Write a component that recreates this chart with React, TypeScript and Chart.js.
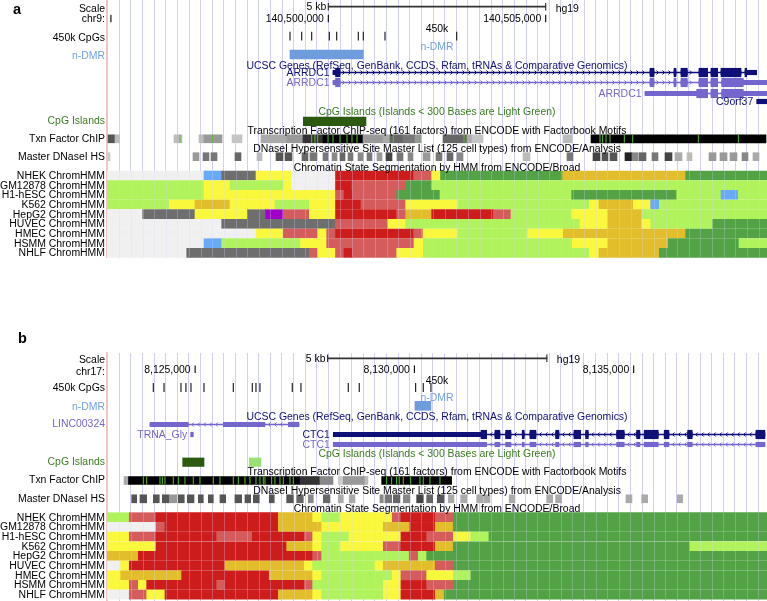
import React, { useEffect, useRef } from 'react';
import { Chart, registerables } from 'chart.js';

Chart.register(...registerables);

type Seg = [number, number];
type Scored = [number, number, number];
interface Gene {
  name: string; label: boolean; strand: 1 | -1; kind: 'ref' | 'alt';
  txStart: number; txEnd: number; cdsStart: number; cdsEnd: number; exons: Seg[];
}

// ---------------- shared ----------------
const CELL_LINES = ['NHEK', 'GM12878', 'H1-hESC', 'K562', 'HepG2', 'HUVEC', 'HMEC', 'HSMM', 'NHLF'];
const TRACK_TITLES = [
  '450k',
  'n-DMR',
  'UCSC Genes (RefSeq, GenBank, CCDS, Rfam, tRNAs & Comparative Genomics)',
  'CpG Islands (Islands < 300 Bases are Light Green)',
  'Transcription Factor ChIP-seq (161 factors) from ENCODE with Factorbook Motifs',
  'DNaseI Hypersensitive Site Master List (125 cell types) from ENCODE/Analysis',
  'Chromatin State Segmentation by HMM from ENCODE/Broad',
];

// ---------------- panel a : chr9 ----------------
const A_RANGE: Seg = [140494910, 140510090];
const A_POS_TICKS = [140495000, 140500000, 140505000];
const A_POS_LABELS = ['', '140,500,000', '140,505,000'];
const A_SCALE_BAR: Seg = [140500000, 140505000];
const A_CPG450K = [140499119, 140499388, 140499618, 140500023, 140500193, 140500690, 140500805, 140501304, 140502953];
const A_NDMR: Seg[] = [[140499119, 140500805]];
const A_GENES: Gene[] = [
  { name: 'ARRDC1', label: true, strand: 1, kind: 'ref', txStart: 140500108, txEnd: 140509853, cdsStart: 140500166, cdsEnd: 140509623,
    exons: [[140500108, 140500269], [140507399, 140507491], [140507951, 140507997], [140508112, 140508257], [140508526, 140508726], [140508802, 140508956], [140509032, 140509492], [140509584, 140509853]] },
  { name: 'ARRDC1', label: true, strand: 1, kind: 'alt', txStart: 140500108, txEnd: 140510300, cdsStart: 140500166, cdsEnd: 140509545,
    exons: [[140500108, 140500269], [140507399, 140507491], [140507951, 140507997], [140508112, 140508257], [140508526, 140508726], [140508802, 140508956], [140509048, 140510300]] },
  { name: 'ARRDC1', label: true, strand: 1, kind: 'alt', txStart: 140507284, txEnd: 140510300, cdsStart: 140508473, cdsEnd: 140509545,
    exons: [[140507284, 140508726], [140508802, 140508956], [140509048, 140510300]] },
  { name: 'C9orf37', label: true, strand: -1, kind: 'ref', txStart: 140509853, txEnd: 140510300, cdsStart: 140510300, cdsEnd: 140510300,
    exons: [[140509853, 140510300]] },
];
const A_CPG_ISLANDS: Seg[] = [[140499425, 140500867]];
const A_CPG_ISLANDS_SHORT: Seg[] = [];
const A_TXN: Scored[] = [
  [140494933, 140495094, 667], [140495094, 140495198, 267], [140496451, 140496635, 267], [140497026, 140497141, 267],
  [140497141, 140497555, 400], [140497785, 140498015, 231], [140498452, 140499050, 333], [140499050, 140499418, 400],
  [140499418, 140499878, 800], [140499878, 140500798, 1000], [140500798, 140501258, 400], [140501258, 140501419, 333],
  [140501419, 140501718, 600], [140501718, 140501994, 533], [140501994, 140502132, 400], [140502638, 140503190, 600],
  [140503190, 140503305, 333], [140503305, 140503558, 231], [140505398, 140505605, 267], [140506042, 140510067, 1000],
];
const A_TXN_MOTIFS = [140496589, 140497332, 140499618, 140499694, 140499756, 140499993, 140500108, 140500269, 140500430, 140500545, 140500660,
  140501495, 140502093, 140503121, 140506249, 140506311, 140506387, 140506479, 140506808, 140507001, 140508510, 140509430];
const A_DNASE: Scored[] = [
  [140494933, 140494979, 200], [140496888, 140497026, 400], [140497118, 140497256, 533], [140497302, 140497440, 533],
  [140497854, 140497992, 600], [140498360, 140498475, 267], [140498797, 140498958, 667], [140499004, 140499165, 667],
  [140499395, 140499533, 600], [140499579, 140499740, 533], [140499878, 140499993, 533], [140500085, 140500200, 467],
  [140500269, 140500384, 600], [140500453, 140500568, 533], [140500683, 140500798, 467], [140500890, 140501005, 533],
  [140501120, 140501235, 400], [140501327, 140501465, 733], [140501580, 140501718, 533], [140501833, 140501948, 467],
  [140502178, 140502339, 400], [140502477, 140502615, 533], [140502730, 140502868, 600], [140502960, 140503098, 467],
  [140504478, 140504639, 267], [140505490, 140505628, 533], [140506088, 140506249, 733], [140506295, 140506433, 667],
  [140506479, 140506640, 667], [140506824, 140506985, 867], [140506985, 140507123, 467], [140507146, 140507307, 600],
  [140507445, 140507583, 533], [140507744, 140507905, 733], [140507974, 140508135, 333], [140508250, 140508365, 267],
  [140508756, 140508917, 400], [140509009, 140509170, 400], [140509239, 140509400, 400], [140509515, 140509653, 467],
  [140509768, 140509906, 333],
];
// ChromHMM: segment boundaries and state codes, one row per cell line (order of CELL_LINES)
const A_HMM_BREAKS: number[][] = [
  [140494910, 140497141, 140497548, 140498337, 140499158, 140500166, 140501964, 140502378, 140502581, 140505391, 140508220, 140510090],
  [140494910, 140497141, 140497739, 140498965, 140499158, 140500166, 140500545, 140501776, 140502378, 140510090],
  [140494910, 140497141, 140500166, 140500361, 140500552, 140501573, 140502569, 140505598, 140508013, 140509032, 140509430, 140510090],
  [140494910, 140496343, 140496934, 140497739, 140498774, 140499563, 140500166, 140500752, 140501780, 140502983, 140506003, 140506226, 140507015, 140507415, 140507613, 140510090],
  [140494910, 140495731, 140496934, 140498137, 140498560, 140498965, 140499563, 140500166, 140501573, 140501780, 140502378, 140503795, 140504202, 140505598, 140506426, 140507208, 140510090],
  [140494910, 140497548, 140500166, 140501373, 140501780, 140505789, 140506426, 140507208, 140507415, 140508841, 140510090],
  [140494910, 140498337, 140498965, 140499756, 140499963, 140500166, 140501964, 140502178, 140502976, 140504586, 140505405, 140508220, 140510090],
  [140494910, 140497141, 140497548, 140499361, 140499963, 140501971, 140502185, 140505612, 140506426, 140507820, 140509446, 140510090],
  [140494910, 140496743, 140499563, 140499756, 140500166, 140500361, 140500552, 140501573, 140502185, 140506003, 140506226, 140507613, 140510090],
];
const A_HMM_STATES = ['HIREHAWETST', 'LELEHAWTL', 'LEWAWTLTLIL', 'LESELEAWELESEIL', 'HRERPWEAWSAWLESL', 'HRWELESELT', 'HEWEWAWELEST', 'HILEWELESTL', 'HRWEWAWELEST'];

// ---------------- panel b : chr17 ----------------
const B_RANGE: Seg = [8122990, 8138040];
const B_POS_TICKS = [8125000, 8130000, 8135000];
const B_POS_LABELS = ['8,125,000', '8,130,000', '8,135,000'];
const B_SCALE_BAR: Seg = [8128020, 8133020];
const B_CPG450K = [8124046, 8124290, 8124677, 8124790, 8124905, 8125202, 8125870, 8126303, 8126387, 8126478, 8127215, 8127413,
  8128492, 8128742, 8130028, 8130202, 8130377];
const B_NDMR: Seg[] = [[8130012, 8130377]];
const CTC1_EXONS: Seg[] = [[8128150, 8131647], [8131836, 8131950], [8132080, 8132201], [8132459, 8132504], [8132634, 8132771],
  [8133220, 8133296], [8133638, 8133790], [8133904, 8133964], [8134611, 8134784], [8135067, 8135142], [8135240, 8135560],
  [8135696, 8135804], [8136230, 8136335], [8137787, 8137992]];
const B_GENES: Gene[] = [
  { name: 'LINC00324', label: false, strand: -1, kind: 'alt', txStart: 8123970, txEnd: 8127368, cdsStart: 8127368, cdsEnd: 8127368,
    exons: [[8123970, 8124844], [8125642, 8126592], [8127124, 8127368]] },
  { name: 'TRNA_Gly', label: true, strand: -1, kind: 'alt', txStart: 8124898, txEnd: 8124958, cdsStart: 8124958, cdsEnd: 8124958,
    exons: [[8124898, 8124958]] },
  { name: 'CTC1', label: true, strand: -1, kind: 'ref', txStart: 8128150, txEnd: 8137992, cdsStart: 8131517, cdsEnd: 8137992, exons: CTC1_EXONS },
  { name: 'CTC1', label: true, strand: -1, kind: 'alt', txStart: 8128150, txEnd: 8137992, cdsStart: 8137992, cdsEnd: 8137992, exons: CTC1_EXONS },
];
const B_CPG_ISLANDS: Seg[] = [[8124716, 8125202]];
const B_CPG_ISLANDS_SHORT: Seg[] = [[8126234, 8126501]];
const B_TXN: Scored[] = [
  [8123378, 8123480, 333], [8123480, 8127390, 1000], [8127390, 8127846, 800], [8127846, 8128143, 467],
  [8128264, 8128378, 200], [8128378, 8128872, 400], [8128872, 8128941, 267], [8129253, 8130849, 1000],
];
const B_TXN_MOTIFS = [8123818, 8123895, 8124198, 8124251, 8124312, 8124502, 8124616, 8124768, 8124958, 8125110, 8125414, 8125566,
  8125870, 8125984, 8126136, 8126250, 8126387, 8126478, 8126554, 8126592, 8126745, 8126820, 8126934, 8127010, 8127162, 8127238,
  8129367, 8129481, 8129595, 8129654, 8129746, 8129914, 8130126, 8130202, 8130354, 8130582];
const B_DNASE: Scored[] = [
  [8123553, 8123667, 667], [8123742, 8123895, 667], [8124046, 8124182, 667], [8124251, 8124410, 667], [8124426, 8124579, 400],
  [8124616, 8124752, 667], [8124821, 8124974, 667], [8125072, 8125186, 667], [8125300, 8125414, 667], [8125566, 8125696, 667],
  [8125908, 8126061, 667], [8126136, 8126266, 667], [8126326, 8126462, 667], [8126690, 8126804, 667], [8127087, 8127238, 667],
  [8127315, 8127466, 600], [8127580, 8127694, 467], [8127922, 8128074, 600], [8128264, 8128378, 333], [8128514, 8128644, 333],
  [8129214, 8129290, 467], [8129328, 8129481, 533], [8129518, 8129670, 600], [8129746, 8129898, 467], [8130051, 8130202, 733],
  [8130279, 8130416, 600], [8130521, 8130674, 667], [8130772, 8130902, 333], [8131054, 8131191, 333], [8131419, 8131570, 333],
  [8131586, 8131722, 333], [8132162, 8132292, 333], [8133015, 8133152, 333], [8133220, 8133357, 333], [8134823, 8134960, 333],
  [8135181, 8135318, 333], [8135993, 8136116, 333],
];
const B_HMM_BREAKS: number[][] = [
  [8122990, 8123498, 8124107, 8126896, 8127680, 8127885, 8128302, 8129495, 8129693, 8130475, 8130886, 8138040],
  [8122990, 8124107, 8124312, 8126896, 8127885, 8129290, 8129898, 8130475, 8130886, 8138040],
  [8122990, 8123498, 8124107, 8125491, 8126303, 8127488, 8127680, 8127885, 8128508, 8129693, 8130279, 8130886, 8131289, 8131700, 8138040],
  [8122990, 8124107, 8127087, 8127680, 8127885, 8128302, 8129290, 8129693, 8130475, 8130886, 8136282, 8138040],
  [8122990, 8123704, 8127680, 8127885, 8129882, 8130088, 8130279, 8138040],
  [8122990, 8123302, 8123498, 8125680, 8127488, 8127680, 8129100, 8129290, 8130475, 8130886, 8138040],
  [8122990, 8123302, 8124693, 8126690, 8127680, 8127885, 8129495, 8129693, 8130279, 8130886, 8131289, 8138040],
  [8122990, 8123498, 8123704, 8123895, 8125491, 8125680, 8127488, 8127680, 8129290, 8129693, 8130279, 8130886, 8138040],
  [8122990, 8123498, 8123895, 8124312, 8126896, 8127680, 8127885, 8129290, 8129693, 8130475, 8130680, 8138040],
];
const B_HMM_STATES = ['LWASELEWAWT', 'HWASESAST', 'EWAWAWELEAWELT', 'EASELEWASTL', 'SAWLWLT', 'HEASELESWT', 'ESASELEWELT', 'EWEAWAWLEAWT', 'HWEASELEAST'];

// ---------------- styles ----------------
const FONT = '"Liberation Sans", Arial, Helvetica, sans-serif';
const FS = 10.45;
const STATE_COLORS: Record<string, string> = {
  A: '#cd1c1c', W: '#d45c5c', P: '#a000c8', S: '#e3be2c', E: '#f9f83c',
  I: '#68aaf6', T: '#53a346', L: '#b1f35c', R: '#6e6e6e', H: '#f0f0f0',
};
const NAVY = '#0f0f78';
const PURPLE = '#7366cc';
const DMR_BAR = '#6e9cdc';
const DMR_TEXT = '#6fa0e6';
const CPG_DARK = '#2c5b10';
const CPG_LIGHT = '#99e173';
const CPG_TEXT = '#3b7b20';
const MOTIF_GREEN = '#5cbf2a';
const GRID_COLOR = '#d0d0fb';
const GRID_OVERLAY = 'rgba(215,215,255,0.28)';
const BORDER_PINK = '#f0c4c4';
const SCALE_COLOR = '#333333';
const gray = (score: number) => { const g = Math.round(255 * (1 - score / 1000)); return `rgb(${g},${g},${g})`; };

interface Layout {
  canvasTop: number; canvasHeight: number; padTop: number; yMin: number; yMax: number;
  letter: string; letterX: number; letterY: number;
  scaleY: number; chrY: number; cpg450Y: number; dmrY: number; geneY: number[];
  cpgY: number; txnY: number; dnaseY: number; hmmY0: number; hmmPitch: number;
  titleY: number[]; gridStart: number; gridStep: number;
  leftLabels: { text: string; y: number; color: string }[];
}

const hmmLabels = (y0: number, pitch: number) => CELL_LINES.map((c, i) => ({ text: `${c} ChromHMM`, y: y0 + i * pitch + 0.5, color: '#000' }));

const A_LAYOUT: Layout = {
  canvasTop: 0, canvasHeight: 258, padTop: 0, yMin: 0, yMax: 258,
  letter: 'a', letterX: 13, letterY: 14.3,
  scaleY: 6.7, chrY: 18.5, cpg450Y: 36.2, dmrY: 54.5, geneY: [72.5, 82.5, 93.5, 101.5],
  cpgY: 121.3, txnY: 138.8, dnaseY: 156.7, hmmY0: 175.5, hmmPitch: 9.67,
  titleY: [29, 46.7, 65.7, 112.3, 131, 149.3, 167.7],
  gridStart: 140495193, gridStep: 267.3,
  leftLabels: [
    { text: 'Scale', y: 8.7, color: '#000' }, { text: 'chr9:', y: 19.3, color: '#000' },
    { text: '450k CpGs', y: 37.7, color: '#000' }, { text: 'n-DMR', y: 55.7, color: DMR_TEXT },
    { text: 'CpG Islands', y: 121, color: CPG_TEXT }, { text: 'Txn Factor ChIP', y: 139.3, color: '#000' },
    { text: 'Master DNaseI HS', y: 157.3, color: '#000' }, ...hmmLabels(175.5, 9.67),
  ],
};
const B_LAYOUT: Layout = {
  canvasTop: 301, canvasHeight: 300, padTop: 52, yMin: 353, yMax: 601,
  letter: 'b', letterX: 18, letterY: 343.3,
  scaleY: 358.3, chrY: 369.2, cpg450Y: 387.5, dmrY: 405.8, geneY: [424.5, 434.5, 434.5, 444.5],
  cpgY: 462.2, txnY: 480.5, dnaseY: 498.8, hmmY0: 517.2, hmmPitch: 9.67,
  titleY: [380.7, 398, 416.7, 454, 472.3, 490.7, 509],
  gridStart: 8123270, gridStep: 264.9,
  leftLabels: [
    { text: 'Scale', y: 360, color: '#000' }, { text: 'chr17:', y: 371.7, color: '#000' },
    { text: '450k CpGs', y: 388.3, color: '#000' }, { text: 'n-DMR', y: 406.7, color: DMR_TEXT },
    { text: 'LINC00324', y: 424.3, color: PURPLE }, { text: 'CpG Islands', y: 461.7, color: CPG_TEXT },
    { text: 'Txn Factor ChIP', y: 480, color: '#000' }, { text: 'Master DNaseI HS', y: 499, color: '#000' },
    ...hmmLabels(517.2, 9.67),
  ],
};
const TITLE_COLORS = ['#000', DMR_TEXT, NAVY, CPG_TEXT, '#000', '#000', '#000'];

interface Panel {
  range: Seg; posTicks: number[]; posLabels: string[]; scaleBar: Seg; cpg450k: number[]; ndmr: Seg[];
  genes: Gene[]; cpgIslands: Seg[]; cpgIslandsShort: Seg[]; txn: Scored[]; txnMotifs: number[]; dnase: Scored[];
  hmmBreaks: number[][]; hmmStates: string[]; L: Layout;
}
const PANEL_A: Panel = { range: A_RANGE, posTicks: A_POS_TICKS, posLabels: A_POS_LABELS, scaleBar: A_SCALE_BAR, cpg450k: A_CPG450K,
  ndmr: A_NDMR, genes: A_GENES, cpgIslands: A_CPG_ISLANDS, cpgIslandsShort: A_CPG_ISLANDS_SHORT, txn: A_TXN, txnMotifs: A_TXN_MOTIFS,
  dnase: A_DNASE, hmmBreaks: A_HMM_BREAKS, hmmStates: A_HMM_STATES, L: A_LAYOUT };
const PANEL_B: Panel = { range: B_RANGE, posTicks: B_POS_TICKS, posLabels: B_POS_LABELS, scaleBar: B_SCALE_BAR, cpg450k: B_CPG450K,
  ndmr: B_NDMR, genes: B_GENES, cpgIslands: B_CPG_ISLANDS, cpgIslandsShort: B_CPG_ISLANDS_SHORT, txn: B_TXN, txnMotifs: B_TXN_MOTIFS,
  dnase: B_DNASE, hmmBreaks: B_HMM_BREAKS, hmmStates: B_HMM_STATES, L: B_LAYOUT };

// ---------------- dataset builders ----------------
function barDs(segs: Seg[], yv: number, thick: number, color: string | string[]) {
  return {
    type: 'bar', indexAxis: 'y', data: segs.map(([s, e]) => ({ x: [s, e], y: yv })),
    backgroundColor: color, barThickness: thick, grouped: false, borderWidth: 0, borderSkipped: false,
  };
}
function tickDs(xs: number[], yv: number, radius: number, color: string, width = 1) {
  return {
    type: 'scatter', data: xs.map((v) => ({ x: v, y: yv })), showLine: false,
    pointStyle: 'line', pointRotation: 90, pointRadius: radius, pointHoverRadius: radius, pointBorderWidth: width,
    pointBorderColor: color, pointBackgroundColor: color, borderColor: color,
  };
}
const geneColor = (g: Gene) => (g.kind === 'ref' ? NAVY : PURPLE);

function buildDatasets(P: Panel) {
  const L = P.L;
  const layers: any[] = [];
  layers.push(barDs([P.scaleBar], L.scaleY, 1, SCALE_COLOR));
  layers.push(tickDs(P.scaleBar, L.scaleY, 3.7, SCALE_COLOR, 1.2));
  layers.push(tickDs(P.posTicks, L.chrY, 3.7, '#000', 1.1));
  layers.push(tickDs(P.cpg450k, L.cpg450Y, 4.4, '#111', 1.1));
  layers.push(barDs(P.ndmr, L.dmrY, 9, DMR_BAR));
  P.genes.forEach((g, i) => {
    const yv = L.geneY[i];
    const c = geneColor(g);
    if (g.exons.length > 1) layers.push(barDs([[g.txStart, g.txEnd]], yv, 1, c));
    layers.push(barDs(g.exons, yv, 4.5, c));
    const thick = g.exons.map(([s, e]) => [Math.max(s, g.cdsStart), Math.min(e, g.cdsEnd)] as Seg).filter(([s, e]) => e > s);
    if (thick.length) layers.push(barDs(thick, yv, 8.5, c));
  });
  layers.push(barDs(P.cpgIslands, L.cpgY, 8.5, CPG_DARK));
  layers.push(barDs(P.cpgIslandsShort, L.cpgY, 8.5, CPG_LIGHT));
  layers.push(barDs(P.txn.map(([s, e]) => [s, e] as Seg), L.txnY, 8, P.txn.map((t) => gray(t[2]))));
  layers.push(tickDs(P.txnMotifs, L.txnY, 4, MOTIF_GREEN, 1));
  layers.push(barDs(P.dnase.map(([s, e]) => [s, e] as Seg), L.dnaseY, 8, P.dnase.map((t) => gray(t[2]))));
  P.hmmBreaks.forEach((br, r) => {
    const segs = br.slice(0, -1).map((b, k) => [b, br[k + 1]] as Seg);
    const cols = P.hmmStates[r].split('').map((s) => STATE_COLORS[s]);
    layers.push(barDs(segs, L.hmmY0 + r * L.hmmPitch, 9, cols));
  });
  return layers.reverse();
}

function trackPlugin(P: Panel) {
  const L = P.L;
  return {
    id: 'trackText',
    afterDatasetsDraw(chart: any) {
      const { ctx, chartArea: ca } = chart;
      const xs = chart.scales.x;
      const ys = chart.scales.y;
      const px = (v: number) => xs.getPixelForValue(v);
      const py = (v: number) => ys.getPixelForValue(v);
      ctx.save();
      ctx.beginPath();
      ctx.rect(ca.left, ca.top, ca.right - ca.left, ca.bottom - ca.top);
      ctx.clip();
      // faint guidelines showing through the chromatin-state rows
      const hTop = py(L.hmmY0 - 4.5);
      const hBot = py(L.hmmY0 + (CELL_LINES.length - 1) * L.hmmPitch + 4.5);
      ctx.strokeStyle = GRID_OVERLAY;
      ctx.lineWidth = 1;
      xs.ticks.forEach((t: any) => {
        const gx = Math.round(px(t.value)) + 0.5;
        ctx.beginPath();
        ctx.moveTo(gx, hTop);
        ctx.lineTo(gx, hBot);
        ctx.stroke();
      });
      // intron chevrons
      P.genes.forEach((g, i) => {
        const yc = py(L.geneY[i]);
        const d = g.strand;
        ctx.strokeStyle = geneColor(g);
        ctx.lineWidth = 1;
        for (let k = 0; k < g.exons.length - 1; k++) {
          const a = px(g.exons[k][1]);
          const b = px(g.exons[k + 1][0]);
          for (let c = a + 4; c < b - 2; c += 6) {
            ctx.beginPath();
            ctx.moveTo(c - 1.5 * d, yc - 2);
            ctx.lineTo(c + 0.5 * d, yc);
            ctx.lineTo(c - 1.5 * d, yc + 2);
            ctx.stroke();
          }
        }
      });
      ctx.restore();

      ctx.save();
      ctx.textBaseline = 'middle';
      ctx.font = `${FS}px ${FONT}`;
      const text = (t: string, x: number, y: number, align: CanvasTextAlign, color: string) => {
        ctx.textAlign = align;
        ctx.fillStyle = color;
        ctx.fillText(t, x, y);
      };
      const cx = (ca.left + ca.right) / 2;
      TRACK_TITLES.forEach((t, i) => text(t, cx, py(L.titleY[i]), 'center', TITLE_COLORS[i]));
      P.posTicks.forEach((v, i) => { if (P.posLabels[i]) text(P.posLabels[i], px(v) - 4.5, py(L.chrY + 1), 'right', '#000'); });
      text('5 kb', px(P.scaleBar[0]) - 2, py(L.scaleY + 0.6), 'right', '#000');
      text('hg19', px(P.scaleBar[1]) + 10, py(L.scaleY + 2.3), 'left', '#000');
      P.genes.forEach((g, i) => { if (g.label) text(g.name, px(g.txStart) - 3.5, py(L.geneY[i] + 0.3), 'right', geneColor(g)); });
      ctx.textBaseline = 'alphabetic';
      ctx.font = `bold 14.5px ${FONT}`;
      text(L.letter, L.letterX, py(L.letterY), 'left', '#000');
      ctx.restore();
    },
  };
}

function makeConfig(P: Panel): any {
  const L = P.L;
  const grid: number[] = [];
  for (let v = L.gridStart; v < P.range[1]; v += L.gridStep) grid.push(v);
  return {
    type: 'bar',
    data: { datasets: buildDatasets(P) },
    options: {
      responsive: false, animation: false, events: [], devicePixelRatio: 1,
      layout: { autoPadding: false, padding: { top: L.padTop, left: 0, right: 0, bottom: 0 } },
      plugins: { legend: { display: false }, tooltip: { enabled: false }, title: { display: false } },
      scales: {
        x: {
          type: 'linear', position: 'bottom', min: P.range[0], max: P.range[1], offset: false,
          afterBuildTicks: (s: any) => { s.ticks = grid.map((v) => ({ value: v })); },
          afterFit: (s: any) => { s.height = 0; s.paddingLeft = 0; s.paddingRight = 0; },
          ticks: { display: false },
          grid: { color: GRID_COLOR, lineWidth: 1, drawTicks: false, tickLength: 0, offset: false },
          border: { display: false },
        },
        y: {
          type: 'linear', position: 'left', min: L.yMin, max: L.yMax, reverse: true, offset: false,
          afterBuildTicks: (s: any) => { s.ticks = L.leftLabels.map((l) => ({ value: l.y })); },
          afterFit: (s: any) => { s.width = 107; s.paddingTop = 0; s.paddingBottom = 0; },
          ticks: {
            autoSkip: false, padding: 2,
            font: { family: FONT, size: FS },
            color: (c: any) => (L.leftLabels[c.index] ? L.leftLabels[c.index].color : '#000'),
            callback: (_v: any, i: number) => (L.leftLabels[i] ? L.leftLabels[i].text : ''),
          },
          grid: { display: false, drawTicks: false, tickLength: 0, offset: false },
          border: { display: true, color: BORDER_PINK, width: 2 },
        },
      },
    },
    plugins: [trackPlugin(P)],
  };
}

function PanelChart({ panel }: { panel: Panel }) {
  const ref = useRef<HTMLCanvasElement | null>(null);
  useEffect(() => {
    if (!ref.current) return;
    const chart = new Chart(ref.current, makeConfig(panel));
    return () => chart.destroy();
  }, [panel]);
  return (
    <canvas
      ref={ref}
      width={767}
      height={panel.L.canvasHeight}
      style={{ position: 'absolute', left: 0, top: panel.L.canvasTop, width: 767, height: panel.L.canvasHeight }}
    />
  );
}

export default function App() {
  return (
    <div style={{ position: 'absolute', left: 0, top: 0, width: 767, height: 601, background: '#fff' }}>
      <PanelChart panel={PANEL_A} />
      <PanelChart panel={PANEL_B} />
    </div>
  );
}
